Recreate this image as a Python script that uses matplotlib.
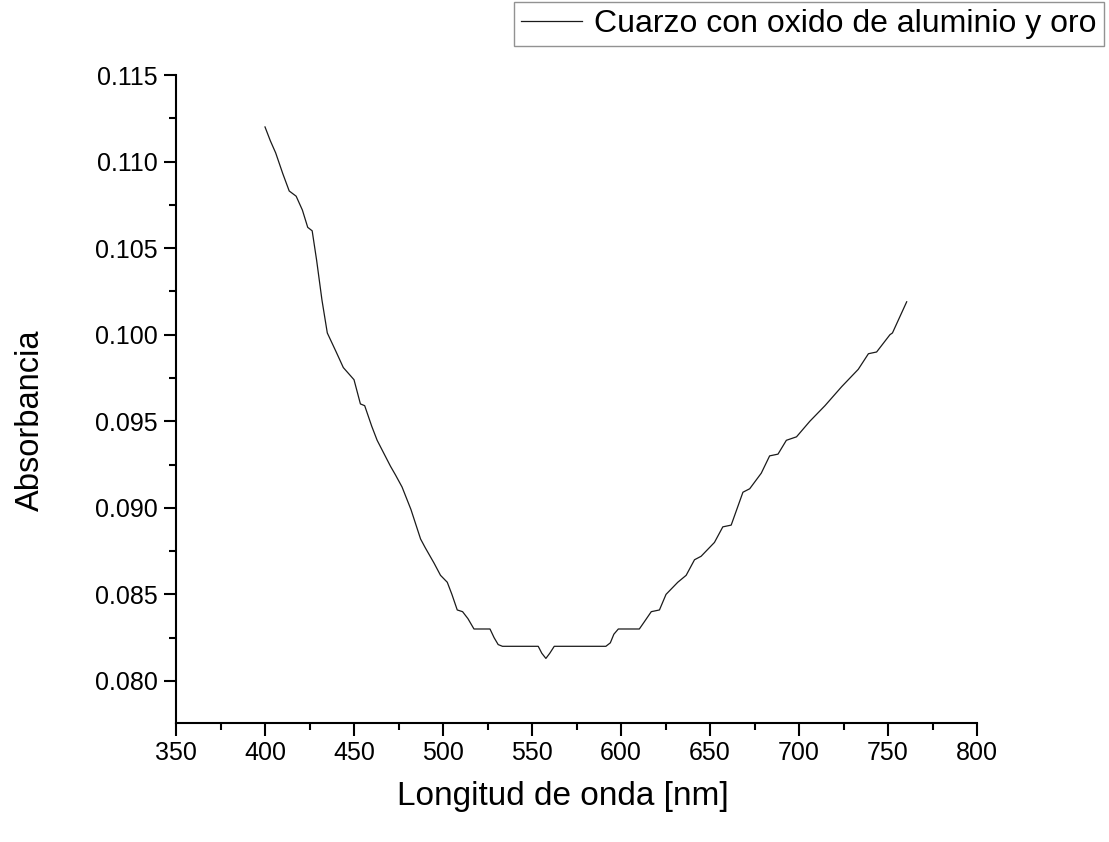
import matplotlib
matplotlib.use("Agg")
import matplotlib.pyplot as plt
from matplotlib.ticker import MultipleLocator, FormatStrFormatter
from matplotlib.lines import Line2D

plt.rcParams['font.family'] = ['Liberation Sans', 'DejaVu Sans']

wavelength = [400, 403, 406, 410, 413.6, 417.5, 421, 424, 426.5, 429, 432, 435,
              440, 444, 450, 453.6, 456, 460, 463, 467, 470.5, 473.3, 477, 482,
              487.4, 490, 495, 498.6, 502.4, 505, 508, 511, 514, 517.4, 526.4,
              528.7, 531, 533.4, 553.5, 555.5, 557.8, 560, 562.5, 591.5, 594,
              596, 598.5, 610.3, 613, 617, 621.6, 625.3, 631.9, 636.6, 641.3,
              645, 652.5, 657.2, 661.9, 668.5, 672.3, 678.8, 683.5, 688.2, 692.9,
              698.6, 706.1, 714.6, 724, 733.3, 739, 743.6, 751.1, 752.5, 760.5]
absorbance = [0.1120, 0.1112, 0.1105, 0.1093, 0.1083, 0.1080, 0.1072, 0.1062,
              0.1060, 0.1043, 0.1020, 0.1001, 0.0990, 0.0981, 0.0974, 0.0960,
              0.0959, 0.0947, 0.0939, 0.0931, 0.0924, 0.0919, 0.0912, 0.0899,
              0.0882, 0.0877, 0.0868, 0.0861, 0.0857, 0.0850, 0.0841, 0.0840,
              0.0836, 0.0830, 0.0830, 0.0825, 0.0821, 0.0820, 0.0820, 0.0816,
              0.0813, 0.0816, 0.0820, 0.0820, 0.0822, 0.0827, 0.0830, 0.0830,
              0.0834, 0.0840, 0.0841, 0.0850, 0.0857, 0.0861, 0.0870, 0.0872,
              0.0880, 0.0889, 0.0890, 0.0909, 0.0911, 0.0920, 0.0930, 0.0931,
              0.0939, 0.0941, 0.0950, 0.0959, 0.0970, 0.0980, 0.0989, 0.0990,
              0.1000, 0.1001, 0.1019]

series_label = "Cuarzo con oxido de aluminio y oro"
x_label = "Longitud de onda [nm]"
y_label = "Absorbancia"

W, H = 1109, 842
fig = plt.figure(figsize=(W / 100, H / 100), dpi=100)
ax = fig.add_axes([176 / W, 1 - 723 / H, (977 - 176) / W, (723 - 75) / H])

line, = ax.plot(wavelength, absorbance, color='#1a1a1a', lw=0.9)

ax.set_xlim(350, 800)
ax.set_ylim(0.07757, 0.115)
ax.xaxis.set_major_locator(MultipleLocator(50))
ax.xaxis.set_minor_locator(MultipleLocator(25))
ax.yaxis.set_major_locator(MultipleLocator(0.005))
ax.yaxis.set_minor_locator(MultipleLocator(0.0025))
ax.yaxis.set_major_formatter(FormatStrFormatter('%.3f'))

for s in ['top', 'right']:
    ax.spines[s].set_visible(False)
for s in ['left', 'bottom']:
    ax.spines[s].set_linewidth(1.5)

ax.tick_params(which='major', direction='out', length=9, width=1.5, labelsize=18, pad=4)
ax.tick_params(which='minor', direction='out', length=5, width=1.5)

fig.text(563 / W, 1 - 797 / H, x_label, ha='center', va='center', fontsize=24)
fig.text(30 / W, 1 - 420 / H, y_label, ha='center', va='center', rotation=90, fontsize=23.5)

leg = fig.legend([Line2D([0], [0], color='#1a1a1a', lw=0.9)], [series_label],
                 loc='upper right', bbox_to_anchor=(1104 / W, 1 - 2 / H),
                 fontsize=23, frameon=True, fancybox=False, handlelength=1.9,
                 handletextpad=0.4, borderpad=0.22, borderaxespad=0)
leg.get_frame().set_edgecolor('#777777')
leg.get_frame().set_linewidth(1.0)

fig.savefig('out.png', dpi=100)
